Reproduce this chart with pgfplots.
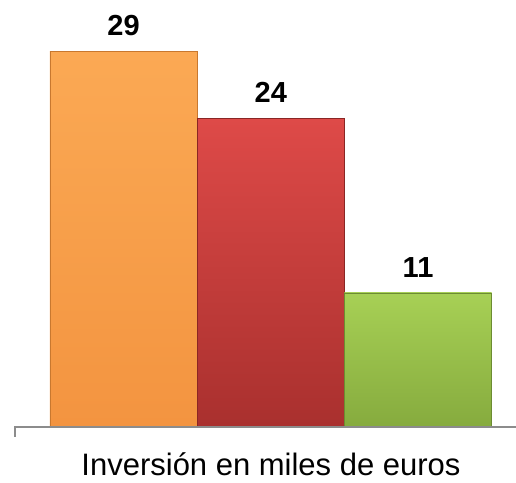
\documentclass[border=0pt]{standalone}
\usepackage{pgfplots}
\pgfplotsset{compat=1.18}
\usepackage{fontspec}
\setmainfont{Liberation Sans}
\definecolor{orTop}{HTML}{FBA954}
\definecolor{orBot}{HTML}{F39440}
\definecolor{orDraw}{HTML}{C8782F}
\definecolor{rdTop}{HTML}{DE4A48}
\definecolor{rdBot}{HTML}{A9302E}
\definecolor{rdDraw}{HTML}{8A2624}
\definecolor{gnTop}{HTML}{A7D055}
\definecolor{gnBot}{HTML}{86AB3E}
\definecolor{gnDraw}{HTML}{6C8C32}
\definecolor{axgray}{HTML}{8C8C8C}
\begin{document}
\begin{tikzpicture}
\useasboundingbox (0,0) rectangle (516pt,482pt);
\begin{axis}[
  at={(15pt,55pt)}, anchor=south west,
  scale only axis, width=501pt, height=427pt,
  xmin=-0.737, xmax=2.665, ymin=1.03, ymax=32.8,
  axis line style={draw=none}, ticks=none,
  clip=false,
  /pgf/number format/assume math mode=true,
  ybar, bar width=1, bar shift=0pt,
  nodes near coords,
  every node near coord/.append style={font=\fontsize{29}{31}\selectfont\bfseries, text=black, inner sep=0pt, anchor=south, yshift=15pt},
]
\addplot[top color=orTop, bottom color=orBot, draw=orDraw, line width=0.8pt] coordinates {(0,29)};
\addplot[top color=rdTop, bottom color=rdBot, draw=rdDraw, line width=0.8pt] coordinates {(1,24)};
\addplot[top color=gnTop, bottom color=gnBot, draw=gnDraw, line width=0.8pt] coordinates {(2,11)};
\end{axis}
\draw[axgray, line width=1.5pt] (15pt,55pt) -- (516pt,55pt);
\draw[axgray, line width=1.5pt] (15pt,55.75pt) -- (15pt,45pt);
\node[anchor=base, inner sep=0pt, font=\fontsize{31}{34}\selectfont] at (271pt,7pt) {Inversión en miles de euros};
\end{tikzpicture}
\end{document}
